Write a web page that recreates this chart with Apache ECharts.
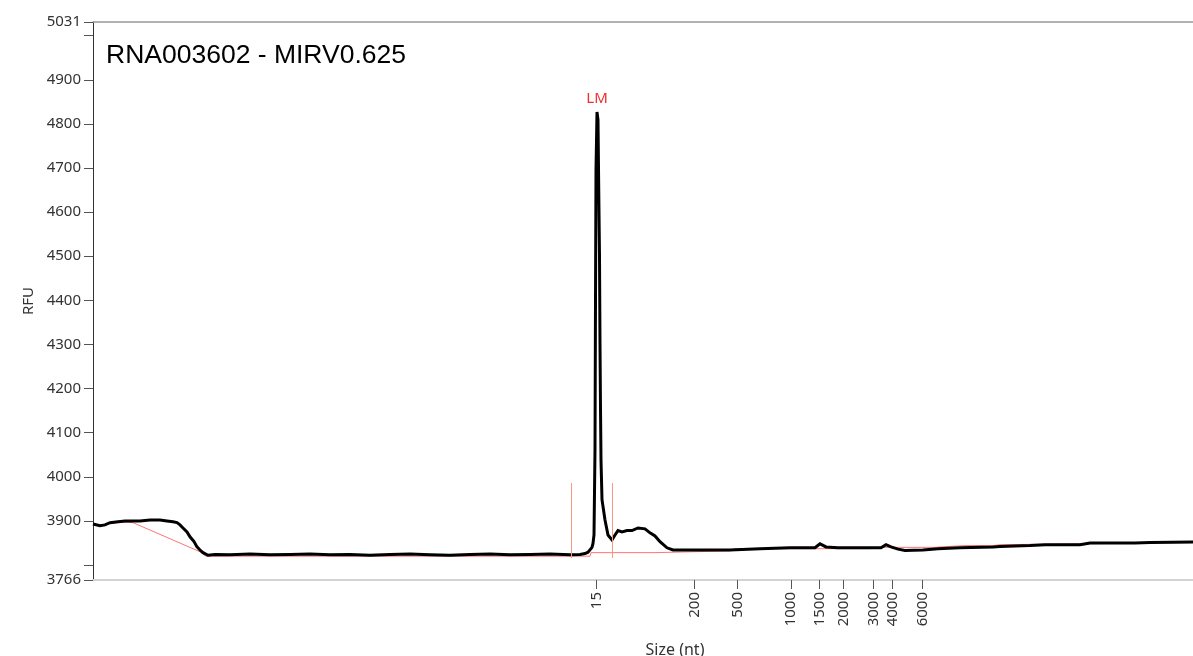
<!DOCTYPE html>
<html><head><meta charset="utf-8">
<script src="https://cdn.jsdelivr.net/npm/echarts@6/dist/echarts.min.js"></script>
<style>html,body{margin:0;padding:0;background:#fff}#c{width:1193px;height:656px}</style>
</head><body><div id="c"></div>
<script>
// Electropherogram trace (x = migration position, RFU)
const traceX = [0,2,7,12,17,25,32,47,57,67,74,80,84,87,90,94,97,101,104,107,110,115,122,137,157,177,197,217,237,257,277,297,317,337,357,377,397,417,437,457,477,487,492,495,497,499,500,501,502,502.5,503,504,505,505.5,506.5,507,507.5,508,509,512,515,519,522,525,529,534,539,545,552,557,562,567,574,580,607,637,667,697,712,722,727,733,745,767,780,788,793,798,805,812,830,845,867,900,907,937,952,987,997,1042,1057,1100];
const traceRFU = [3893,3891,3889,3891,3896,3898,3900,3900,3902,3902,3900,3898,3896,3891,3884,3875,3864,3853,3841,3834,3828,3822,3824,3823,3825,3823,3824,3825,3823,3824,3822,3824,3825,3823,3822,3824,3825,3823,3824,3825,3823,3824,3826,3829,3833,3840,3849,3868,4061,4401,4696,4827,4809,4700,4500,4300,4156,4038,3948,3902,3868,3857,3868,3878,3875,3878,3878,3884,3882,3873,3866,3853,3839,3834,3834,3834,3837,3839,3839,3839,3848,3841,3839,3839,3839,3839,3846,3841,3836,3833,3834,3837,3839,3841,3842,3844,3846,3846,3850,3850,3851,3852];
// Baseline
const baseX = [0,7,17,32,40,107,113,497,498,562,563,637,642,777,787,842,847,872,900,907,1100];
const baseRFU = [3893,3890,3895,3897,3896,3830,3820,3820,3828,3828,3832,3832,3837,3837,3840,3840,3841,3844,3844,3846,3851];
// Size ladder
const ladderPos = [503.7,601.3,644.7,698,726.3,750.3,780.3,799.7,829.7];
const ladderSizes = ['15','200','500','1000','1500','2000','3000','4000','6000'];
// Y axis
const yLabelValues = [3766,3900,4000,4100,4200,4300,4400,4500,4600,4700,4800,4900,5031];
const yTickValues = [3766,3800,3900,4000,4100,4200,4300,4400,4500,4600,4700,4800,4900,5000,5031];
// Peak boundaries and marker
const boundaryX = [478,519];
const boundaryRFU = [3816,3986];
const peakX = 504, peakRFU = 4827, peakName = 'LM';

const font = 'Noto Sans';
const chart = echarts.init(document.getElementById('c'));
chart.setOption({
  animation: false,
  grid: {left: 93, right: 0, top: 22, bottom: 76, outerBoundsMode: 'none', containLabel: false},
  graphic: [{type: 'text', left: 106, top: 42, style: {text: 'RNA003602 - MIRV0.625', font: '26.5px "Liberation Sans"', fill: '#000'}}],
  xAxis: [{
    type: 'value', min: 0, max: 1100,
    axisLine: {show: true, lineStyle: {color: '#d3d3d3', width: 2}},
    axisTick: {show: true, customValues: ladderPos, length: 9, lineStyle: {color: '#555'}},
    axisLabel: {customValues: ladderPos, rotate: 90, margin: 12, fontSize: 15, fontFamily: font, color: '#333',
      formatter: v => { const i = ladderPos.findIndex(p => Math.abs(p - v) < 0.01); return i >= 0 ? ladderSizes[i] : ''; }},
    splitLine: {show: false},
    name: 'Size (nt)', nameLocation: 'middle', nameGap: 62,
    nameTextStyle: {fontSize: 16, fontFamily: font, color: '#333', padding: [0, 0, 0, 64]}
  }, {
    type: 'value', position: 'top', min: 0, max: 1100,
    axisLine: {show: true, lineStyle: {color: '#999', width: 1.5}},
    axisTick: {show: false}, axisLabel: {show: false}, splitLine: {show: false}
  }],
  yAxis: {
    type: 'value', min: 3766, max: 5031,
    axisLine: {show: true, lineStyle: {color: '#333', width: 1}},
    axisTick: {show: true, customValues: yTickValues, length: 9, lineStyle: {color: '#555'}},
    axisLabel: {customValues: yLabelValues, margin: 12, fontSize: 15, fontFamily: font, color: '#333',
      formatter: v => String(v)},
    splitLine: {show: false},
    name: 'RFU', nameLocation: 'middle', nameGap: 54,
    nameTextStyle: {fontSize: 15, fontFamily: font, color: '#333'}
  },
  series: [{
    type: 'line', silent: true, symbol: 'none', z: 2,
    data: baseX.map((x, i) => [x, baseRFU[i]]),
    lineStyle: {color: 'rgba(255,70,70,0.75)', width: 1},
    markLine: {
      silent: true, symbol: ['none', 'none'], label: {show: false},
      lineStyle: {color: '#f59a80', width: 1, type: 'solid', opacity: 1},
      data: boundaryX.map(x => [{coord: [x, boundaryRFU[0]]}, {coord: [x, boundaryRFU[1]]}])
    }
  }, {
    type: 'line', silent: true, symbol: 'none', z: 3,
    data: traceX.map((x, i) => [x, traceRFU[i]]),
    lineStyle: {color: '#000', width: 3, join: 'miter'},
    markPoint: {
      silent: true, symbol: 'rect', symbolSize: 1, itemStyle: {color: 'rgba(0,0,0,0)'},
      label: {show: true, position: 'top', distance: 5, formatter: peakName, color: '#f03030', fontSize: 15, fontFamily: font},
      data: [{coord: [peakX, peakRFU]}]
    }
  }]
});
</script></body></html>
